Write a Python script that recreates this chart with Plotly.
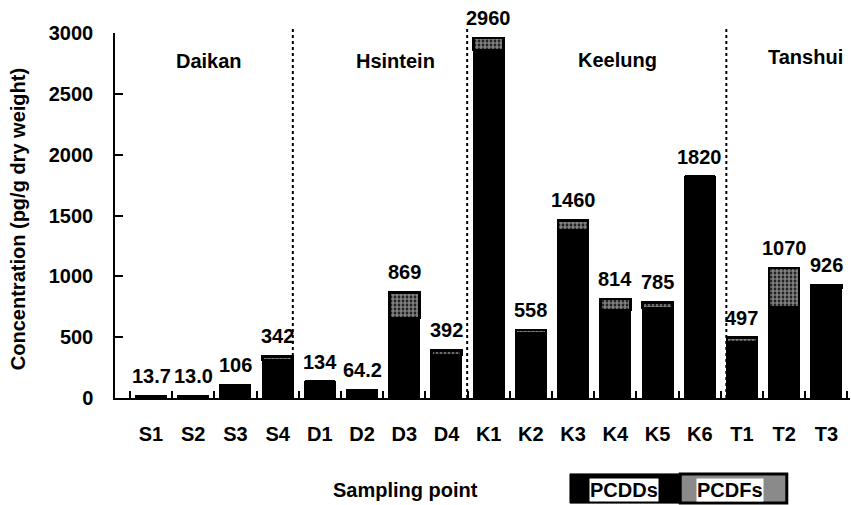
import plotly.graph_objects as go

# ---- data ----
sites = ["S1", "S2", "S3", "S4", "D1", "D2", "D3", "D4",
         "K1", "K2", "K3", "K4", "K5", "K6", "T1", "T2", "T3"]
pcdd = [13.7, 13.0, 106, 312, 134, 64.2, 657, 352,
        2860, 533, 1380, 724, 740, 1820, 460, 750, 904]
pcdf = [0, 0, 0, 30, 0, 0, 212, 40,
        100, 25, 80, 90, 45, 0, 37, 320, 22]
total_labels = ["13.7", "13.0", "106", "342", "134", "64.2", "869", "392",
                "2960", "558", "1460", "814", "785", "1820", "497", "1070", "926"]
groups = ["Daikan", "Hsintein", "Keelung", "Tanshui"]
y_ticks = [0, 500, 1000, 1500, 2000, 2500, 3000]

FONT = "Liberation Sans, Arial, Helvetica, sans-serif"
FS = 20


def bold(size=FS):
    return dict(family=FONT, size=size, color="black", weight="bold")


xs = list(range(len(sites)))
fig = go.Figure()
fig.add_trace(go.Bar(
    x=xs, y=pcdd, name="PCDDs", width=0.71,
    marker=dict(color="black", line=dict(color="black", width=2)),
    showlegend=False, hoverinfo="skip"))
fig.add_trace(go.Bar(
    x=xs, y=pcdf, name="PCDFs", width=0.71,
    marker=dict(color="black", line=dict(color="black", width=2.5),
                pattern=dict(shape=".", fgcolor="white", bgcolor="black",
                             size=4, solidity=0.7)),
    showlegend=False, hoverinfo="skip"))

annotations = []
for i, (a, b, t) in enumerate(zip(pcdd, pcdf, total_labels)):
    annotations.append(dict(x=i, y=a + b, xref="x", yref="y", text=t,
                            showarrow=False, xanchor="center", yanchor="bottom",
                            yshift=7, font=bold()))

group_pos = [(0.128, 0.923), (0.382, 0.923), (0.683, 0.925), (0.939, 0.934)]
for g, (gx, gy) in zip(groups, group_pos):
    annotations.append(dict(x=gx, y=gy, xref="paper", yref="paper", text=g,
                            showarrow=False, xanchor="center", yanchor="middle",
                            font=bold()))

annotations.append(dict(x=0.395, y=-0.252, xref="paper", yref="paper",
                        text="Sampling point", showarrow=False,
                        xanchor="center", yanchor="middle", font=bold()))
annotations.append(dict(x=-0.132, y=0.49, xref="paper", yref="paper",
                        text="Concentration (pg/g dry weight)", showarrow=False,
                        textangle=-90, xanchor="center", yanchor="middle",
                        font=bold()))
# legend labels
for lab, lx in [("PCDDs", 0.693), ("PCDFs", 0.837)]:
    annotations.append(dict(x=lx, y=-0.252, xref="paper", yref="paper",
                            text=lab, showarrow=False, bgcolor="white",
                            borderpad=0, xanchor="center", yanchor="middle",
                            font=bold()))

shapes = []
for sx in [3.36, 7.49, 13.63]:
    shapes.append(dict(type="line", xref="x", yref="paper", x0=sx, x1=sx,
                       y0=0, y1=1.016, line=dict(color="black", width=2, dash="dot")))
shapes.append(dict(type="rect", xref="paper", yref="paper", x0=0.619, x1=0.769,
                   y0=-0.288, y1=-0.208, fillcolor="black",
                   line=dict(color="black", width=1), layer="below"))
shapes.append(dict(type="rect", xref="paper", yref="paper", x0=0.769, x1=0.914,
                   y0=-0.288, y1=-0.208, fillcolor="#8a8a8a",
                   line=dict(color="black", width=3), layer="below"))

fig.update_layout(
    width=851, height=505,
    margin=dict(l=115, r=1, t=33, b=107),
    paper_bgcolor="white", plot_bgcolor="white",
    barmode="stack",
    font=bold(),
    xaxis=dict(range=[-0.853, 16.56], tickmode="array", tickvals=xs,
               ticktext=sites, ticks="", showgrid=False, zeroline=False,
               showline=True, linecolor="black", linewidth=1.5,
               ticklabelstandoff=17, tickfont=bold(),
               minor=dict(tickmode="linear", tick0=0.5, dtick=1,
                          ticks="inside", ticklen=7, tickwidth=1.5,
                          tickcolor="black", showgrid=False)),
    yaxis=dict(range=[0, 3000], tickmode="array", tickvals=y_ticks,
               ticks="inside", ticklen=8, tickwidth=1.5, tickcolor="black",
               showgrid=False, zeroline=False, showline=True,
               linecolor="black", linewidth=1.5, ticklabelstandoff=16,
               tickfont=bold()),
    annotations=annotations, shapes=shapes,
)

fig.write_html("out.html", config={"displayModeBar": False},
               post_script="document.body.style.margin='0';")
